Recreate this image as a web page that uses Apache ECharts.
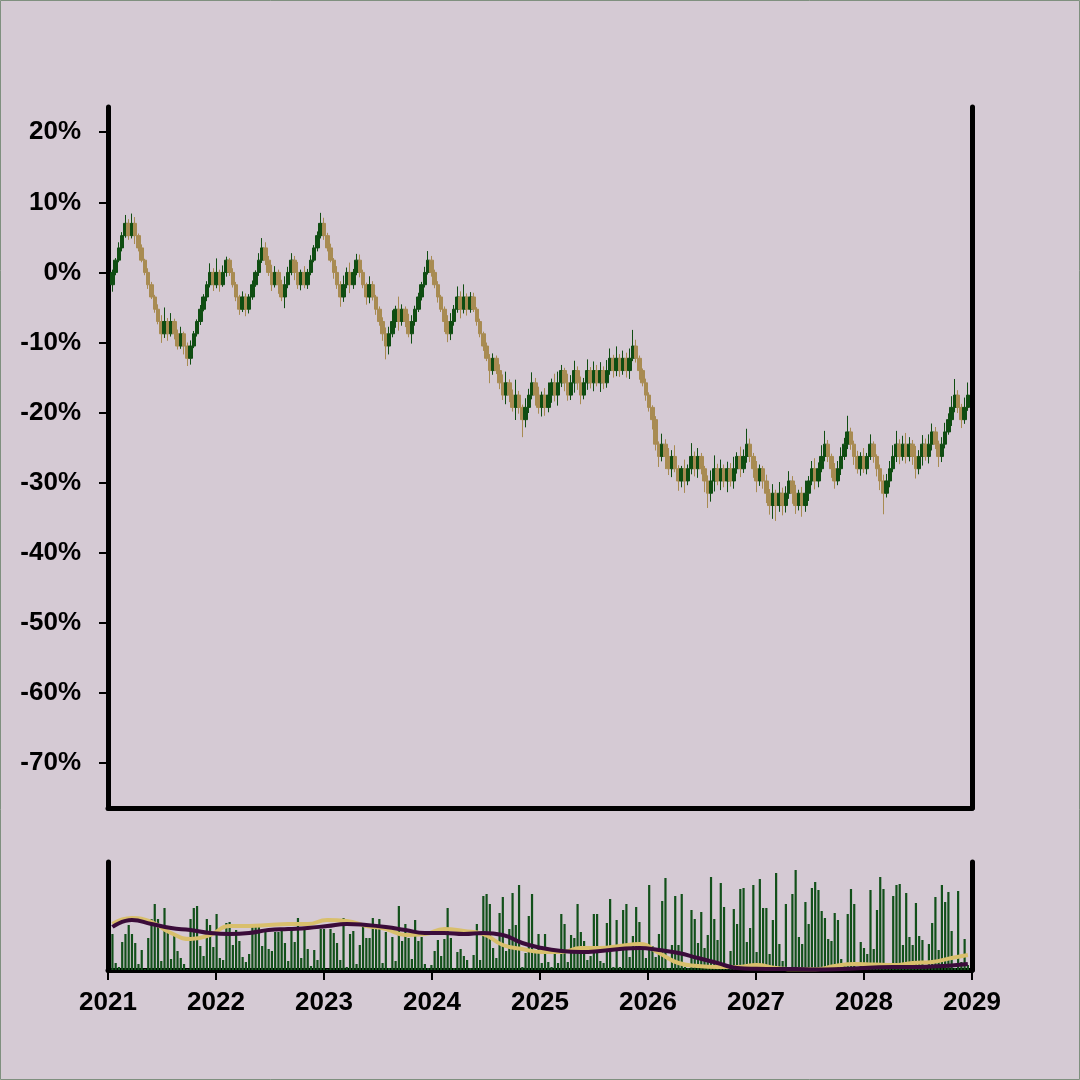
<!DOCTYPE html>
<html>
<head>
<meta charset="utf-8">
<script src="https://cdn.jsdelivr.net/npm/echarts@6/dist/echarts.min.js"></script>
<style>
html,body{margin:0;padding:0;background:#d5cad4;}
#chart{width:1080px;height:1080px;}
</style>
</head>
<body>
<div id="chart"></div>
<script>
// ---- DATA ----
const startDate = [2021, 0, 16];   // first candle date (UTC y, m, d)
const stepDays = 11;               // spacing between candles in days
const firstOpen = -1.75;
const closes = [
 0,1.75,3.5,5.25,7,5.25,7,5.25,3.5,1.75,
 0,-1.75,-3.5,-5.25,-7,-8.75,-7,-8.75,-7,-8.75,
 -10.5,-8.75,-10.5,-12.25,-10.5,-8.75,-7,-5.25,-3.5,-1.75,
 0,-1.75,0,-1.75,0,1.75,0,-1.75,-3.5,-5.25,
 -3.5,-5.25,-3.5,-1.75,0,1.75,3.5,1.75,0,-1.75,
 0,-1.75,-3.5,-1.75,0,1.75,0,-1.75,0,-1.75,
 0,1.75,3.5,5.25,7,5.25,3.5,1.75,0,-1.75,
 -3.5,-1.75,0,-1.75,0,1.75,0,-1.75,-3.5,-1.75,
 -3.5,-5.25,-7,-8.75,-10.5,-8.75,-7,-5.25,-7,-5.25,
 -7,-8.75,-7,-5.25,-3.5,-1.75,0,1.75,0,-1.75,
 -3.5,-5.25,-7,-8.75,-7,-5.25,-3.5,-5.25,-3.5,-5.25,
 -3.5,-5.25,-7,-8.75,-10.5,-12.25,-14,-12.25,-14,-15.75,
 -17.5,-15.75,-17.5,-19.25,-17.5,-19.25,-21,-19.25,-17.5,-15.75,
 -17.5,-19.25,-17.5,-19.25,-17.5,-15.75,-17.5,-15.75,-14,-15.75,
 -17.5,-15.75,-14,-15.75,-17.5,-15.75,-14,-15.75,-14,-15.75,
 -14,-15.75,-14,-12.25,-14,-12.25,-14,-12.25,-14,-12.25,
 -10.5,-12.25,-14,-15.75,-17.5,-19.25,-21,-24.5,-26.25,-24.5,
 -26.25,-28,-26.25,-28,-29.75,-28,-29.75,-28,-26.25,-28,
 -26.25,-28,-29.75,-31.5,-29.75,-28,-29.75,-28,-29.75,-28,
 -29.75,-28,-26.25,-28,-26.25,-24.5,-26.25,-28,-29.75,-28,
 -29.75,-31.5,-33.25,-31.5,-33.25,-31.5,-33.25,-31.5,-29.75,-31.5,
 -33.25,-31.5,-33.25,-31.5,-29.75,-28,-29.75,-28,-26.25,-24.5,
 -26.25,-28,-29.75,-28,-26.25,-24.5,-22.75,-24.5,-26.25,-28,
 -26.25,-28,-26.25,-24.5,-26.25,-28,-29.75,-31.5,-29.75,-28,
 -26.25,-24.5,-26.25,-24.5,-26.25,-24.5,-26.25,-28,-26.25,-24.5,
 -26.25,-24.5,-22.75,-24.5,-26.25,-24.5,-22.75,-21,-19.25,-17.5,
 -19.25,-21,-19.25,-17.5
];
const wickUp = [
 0.4,0.3,0.8,0.5,1.2,0.6,1.4,0.9,0.3,0.5,0.2,0.6,
 0.4,0.3,0.7,0.9,2.0,0.5,1.2,0.4,0.6,1.0,0.3,0.5,
 0.8,0.4,0.3,0.6,0.4,0.5,1.3,0.6,2.0,0.4,1.0,0.5,
 0.3,0.6,0.4,0.3,0.8,0.5,0.4,0.6,0.3,1.0,1.4,0.8,
 0.6,1.1,0.9,0.4,0.7,1.2,0.8,1.0,0.6,1.5,0.4,0.9,
 0.5,0.7,0.4,0.6,1.5,0.8,0.4,0.6,0.3,0.9,0.5,1.3,
 0.7,1.4,0.5,0.9,0.8,0.4,0.3,1.2,0.5,0.3,0.4,0.6,
 0.9,1.0,1.6,0.5,1.8,0.7,0.4,1.1,0.9,0.5,0.6,0.4,
 0.8,1.3,0.6,0.4,0.5,0.3,0.4,0.9,1.2,0.6,1.5,0.8,
 1.8,0.5,0.7,0.6,0.3,0.4,0.3,0.5,0.6,0.7,0.4,0.9,
 1.2,1.6,0.5,0.8,2.2,0.6,0.4,1.3,0.9,1.5,0.7,1.2,
 0.5,1.0,1.8,0.6,1.3,1.6,0.8,0.4,1.3,1.1,1.4,0.6,
 0.9,0.7,1.6,0.5,1.3,0.8,1.2,0.6,1.5,1.4,0.5,1.7,
 0.6,1.1,0.8,1.4,2.3,0.9,0.4,0.3,0.6,0.4,0.3,0.5,
 0.4,1.5,0.7,1.2,0.9,1.6,0.5,0.4,1.3,0.6,1.9,0.7,
 1.2,0.5,0.4,0.8,1.5,1.9,0.7,1.3,0.6,1.0,0.8,1.7,
 0.6,1.4,1.0,2.2,0.8,0.5,1.1,0.6,0.4,0.9,0.6,1.3,
 0.5,1.6,0.8,1.0,1.4,0.7,1.2,0.5,0.9,1.8,0.7,1.1,
 1.5,0.9,1.6,1.9,0.6,0.4,0.8,1.1,1.3,0.9,2.3,0.6,
 0.5,0.8,0.6,1.2,0.5,1.4,0.4,0.3,0.6,0.9,1.0,1.1,
 1.6,1.9,0.7,1.2,1.6,1.0,0.6,1.5,0.9,1.3,0.8,1.4,
 1.2,0.7,0.5,1.0,1.3,0.9,1.6,2.3,0.7,0.5,1.4,1.8
];
const wickDown = [
 1.0,0.4,0.3,0.5,0.3,0.6,0.4,1.2,0.5,0.3,0.4,0.6,
 0.3,0.5,0.4,1.3,0.6,1.0,0.4,0.8,0.5,0.4,1.2,1.1,
 0.9,0.3,0.4,0.5,0.3,0.6,0.4,0.9,0.5,1.0,0.3,0.6,
 0.5,0.4,0.6,0.8,0.4,1.0,0.6,0.4,0.3,0.5,0.4,0.7,
 0.5,0.9,0.4,1.3,0.6,1.6,0.5,0.4,1.1,0.6,0.8,0.5,
 0.6,0.4,0.3,0.5,0.4,0.6,0.5,0.3,0.9,0.6,1.4,0.7,
 0.5,1.2,0.6,0.4,0.7,0.5,1.1,0.9,0.5,0.8,0.6,1.0,
 1.9,1.2,0.5,0.9,1.3,0.6,0.8,0.5,1.4,0.6,0.4,0.5,
 0.4,0.3,0.6,0.5,0.8,0.4,1.5,1.2,0.9,0.6,0.5,1.3,
 0.6,0.9,0.5,0.4,0.6,0.5,0.7,0.4,1.8,0.6,0.5,0.9,
 0.7,1.3,1.0,0.6,1.8,0.9,2.5,1.1,0.8,0.6,1.5,0.9,
 1.3,1.2,0.7,1.1,0.9,1.5,0.6,1.2,0.8,0.7,1.4,1.0,
 1.3,0.6,1.0,0.8,1.2,0.5,1.3,0.9,0.7,0.6,1.0,0.8,
 0.9,0.6,1.0,1.2,0.4,0.6,1.3,0.5,0.8,0.6,1.4,0.9,
 1.5,0.7,1.8,0.9,1.2,0.5,1.4,0.9,1.7,0.6,0.8,1.1,
 1.3,0.8,1.6,2.1,1.2,1.5,0.6,1.3,0.9,1.6,0.8,1.1,
 0.7,1.2,0.6,0.9,0.8,1.3,1.6,0.7,1.1,1.4,1.3,1.9,
 2.2,0.9,1.4,1.0,0.8,1.5,1.2,0.7,1.6,0.9,1.1,0.6,
 1.2,0.9,0.5,0.7,0.8,1.3,1.1,0.6,0.9,0.5,0.7,0.8,
 1.2,0.7,1.0,0.6,0.8,0.5,0.9,1.1,1.3,3.0,0.6,0.9,
 0.5,0.8,1.1,0.6,1.0,0.7,1.2,1.4,0.8,1.3,0.6,1.0,
 0.9,0.7,1.5,0.8,0.6,0.4,0.9,0.7,0.8,1.2,0.6,0.5
];
const volume = [
 36,7,3,28,36,45,36,27,6,20,
 1,32,51,66,51,9,62,37,11,35,
 19,12,6,1,51,62,64,24,14,51,
 45,23,56,12,10,47,48,25,40,29,
 13,8,16,45,45,46,24,41,21,19,
 38,38,41,27,9,41,28,52,12,41,
 21,4,20,10,41,41,1,41,37,27,
 10,52,3,36,39,6,25,47,32,32,
 52,41,51,7,38,2,33,9,64,29,
 46,32,11,50,29,33,6,2,5,19,
 30,14,31,62,32,2,18,21,14,10,
 2,15,46,10,74,76,66,22,12,57,
 73,19,41,77,45,85,3,17,54,76,
 18,36,7,36,8,3,16,7,56,46,
 8,35,32,66,38,29,10,14,56,56,
 9,7,47,71,3,50,3,60,66,13,
 34,63,48,22,12,85,24,13,36,69,
 92,2,25,74,25,76,3,2,60,51,
 27,58,22,35,93,51,30,87,63,2,
 19,61,46,81,82,28,42,85,18,91,
 62,62,16,50,97,26,9,66,2,76,
 100,33,26,68,46,82,88,80,59,52,
 31,29,57,50,11,7,56,81,66,2,
 28,22,16,80,21,60,93,81,2,7,
 74,85,86,25,77,33,25,67,34,30,
 4,26,47,73,20,85,68,78,39,2,
 79,8,31,5
];
// indicator lines in the volume panel, sampled every 6th candle (last = final candle)
const lineSampleStep = 6;
const slowLine = [43,50,46,42,40,37,36,37,40,41,42,44,46,45,43,40,37,37,36,37,35,27,22,19,18,19,21,22,20,17,12,7,2,1.2,1,1,0.6,0.8,1.5,2.5,3,3,3.5,4.5,6];
const fastLine = [46,52,48,37,31,35,44,44,45,46,46,50,49,44,41,35,36,41,39,36,25,21,18,18,22,22,24,26,17,7,4,3,3,5,2,0.7,0.7,4,6,5.5,5,7,8,12,15];
const yTicks = [-70,-60,-50,-40,-30,-20,-10,0,10,20];
const yearMin = 2021, yearMax = 2029;

// ---- BUILD ----
function dateToYear(i){
  const t = Date.UTC(startDate[0], startDate[1], startDate[2]) + i*stepDays*86400000;
  const y = new Date(t).getUTCFullYear();
  const y0 = Date.UTC(y,0,1), y1 = Date.UTC(y+1,0,1);
  return y + (t - y0)/(y1 - y0);
}
const n = closes.length;
const candleData = [];
const volData = [];
for (let i = 0; i < n; i++) {
  const o = i === 0 ? firstOpen : closes[i-1];
  const c = closes[i];
  const hi = Math.max(o,c) + wickUp[i];
  const lo = Math.min(o,c) - wickDown[i];
  const x = dateToYear(i);
  candleData.push([x, o, c, lo, hi]);
  volData.push([x, volume[i]]);
}
const slowData = slowLine.map((v,j)=>[dateToYear(Math.min(j*lineSampleStep, n-1)), v]);
const fastData = fastLine.map((v,j)=>[dateToYear(Math.min(j*lineSampleStep, n-1)), v]);

const black = '#000';
const axisLineStyle = {color: black, width: 5, cap: 'round'};
const labelFont = {fontFamily: 'Liberation Sans, Arial, sans-serif', fontWeight: 'bold', fontSize: 26, color: black};

const chart = echarts.init(document.getElementById('chart'), null, {renderer: 'canvas'});
chart.setOption({
  backgroundColor: '#d5cad4',
  animation: false,
  graphic: [{type: 'rect', shape: {x: 0.5, y: 0.5, width: 1079, height: 1079}, style: {fill: 'none', stroke: '#7f907f', lineWidth: 1}, silent: true, z: 100}],
  grid: [
    {left: 108, right: 108, top: 107, height: 701},
    {left: 108, right: 108, top: 862, height: 108}
  ],
  xAxis: [
    {type: 'value', gridIndex: 0, min: yearMin, max: yearMax, interval: 1,
     axisLine: {show: true, onZero: false, lineStyle: axisLineStyle},
     axisTick: {show: false}, axisLabel: {show: false}, splitLine: {show: false}},
    {type: 'value', gridIndex: 1, min: yearMin, max: yearMax, interval: 1,
     axisLine: {show: true, onZero: false, lineStyle: axisLineStyle},
     axisTick: {show: true, length: 10, lineStyle: {color: black, width: 2}},
     axisLabel: Object.assign({show: true, margin: 20, showMinLabel: true, showMaxLabel: true,
       formatter: v => String(Math.round(v))}, labelFont),
     splitLine: {show: false}}
  ],
  yAxis: [
    {type: 'value', gridIndex: 0, min: -76.4, max: 23.6, position: 'left',
     axisLine: {show: true, onZero: false, lineStyle: axisLineStyle},
     axisTick: {show: true, length: 9, customValues: yTicks, lineStyle: {color: black, width: 2}},
     axisLabel: Object.assign({show: true, margin: 27, customValues: yTicks, formatter: v => Math.round(v) + '%'}, labelFont),
     splitLine: {show: false}},
    {type: 'value', gridIndex: 0, min: -76.4, max: 23.6, position: 'right',
     axisLine: {show: true, onZero: false, lineStyle: axisLineStyle},
     axisTick: {show: false}, axisLabel: {show: false}, splitLine: {show: false}},
    {type: 'value', gridIndex: 1, min: 0, max: 108, position: 'left',
     axisLine: {show: true, onZero: false, lineStyle: axisLineStyle},
     axisTick: {show: false}, axisLabel: {show: false}, splitLine: {show: false}},
    {type: 'value', gridIndex: 1, min: 0, max: 108, position: 'right',
     axisLine: {show: true, onZero: false, lineStyle: axisLineStyle},
     axisTick: {show: false}, axisLabel: {show: false}, splitLine: {show: false}}
  ],
  series: [
    {type: 'candlestick', xAxisIndex: 0, yAxisIndex: 0, data: candleData,
     encode: {x: 0, y: [1, 2, 3, 4]}, barWidth: 4, barMaxWidth: 10,
     itemStyle: {color: '#0f4d12', color0: '#a88b52', borderColor: '#0f4d12', borderColor0: '#a88b52', borderWidth: 1}},
    {type: 'bar', xAxisIndex: 1, yAxisIndex: 2, data: volData, barWidth: 2.2,
     itemStyle: {color: '#12501a'}},
    {type: 'line', xAxisIndex: 1, yAxisIndex: 2, data: fastData, smooth: true, showSymbol: false,
     lineStyle: {color: '#d9bf6c', width: 4}, z: 3},
    {type: 'line', xAxisIndex: 1, yAxisIndex: 2, data: slowData, smooth: true, showSymbol: false,
     lineStyle: {color: '#3b0c3a', width: 4}, z: 4}
  ]
});
</script>
</body>
</html>
